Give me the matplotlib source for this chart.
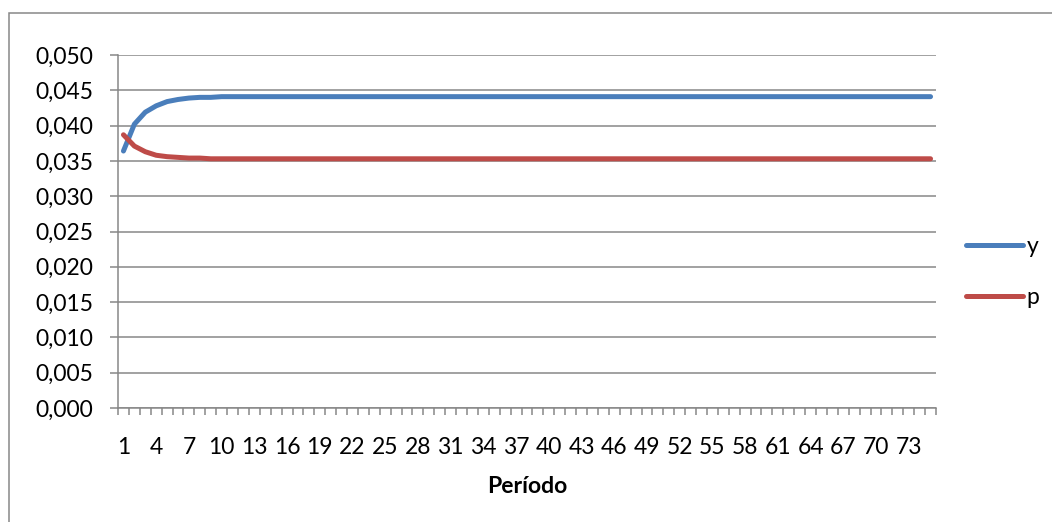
import matplotlib
matplotlib.use("Agg")
import matplotlib.pyplot as plt
from matplotlib.patches import Rectangle
from matplotlib.ticker import FixedLocator, FuncFormatter

periodos = list(range(1, 76))

y = [0.0364, 0.0402, 0.0419, 0.0428, 0.0434, 0.0437, 0.0439, 0.0440, 0.0440, 0.0441,
     0.0441, 0.0441, 0.0441, 0.0441, 0.0441, 0.0441, 0.0441, 0.0441, 0.0441, 0.0441,
     0.0441, 0.0441, 0.0441, 0.0441, 0.0441, 0.0441, 0.0441, 0.0441, 0.0441, 0.0441,
     0.0441, 0.0441, 0.0441, 0.0441, 0.0441, 0.0441, 0.0441, 0.0441, 0.0441, 0.0441,
     0.0441, 0.0441, 0.0441, 0.0441, 0.0441, 0.0441, 0.0441, 0.0441, 0.0441, 0.0441,
     0.0441, 0.0441, 0.0441, 0.0441, 0.0441, 0.0441, 0.0441, 0.0441, 0.0441, 0.0441,
     0.0441, 0.0441, 0.0441, 0.0441, 0.0441, 0.0441, 0.0441, 0.0441, 0.0441, 0.0441,
     0.0441, 0.0441, 0.0441, 0.0441, 0.0441]

p = [0.0387, 0.0371, 0.0363, 0.0358, 0.0356, 0.0355, 0.0354, 0.0354, 0.0353, 0.0353,
     0.0353, 0.0353, 0.0353, 0.0353, 0.0353, 0.0353, 0.0353, 0.0353, 0.0353, 0.0353,
     0.0353, 0.0353, 0.0353, 0.0353, 0.0353, 0.0353, 0.0353, 0.0353, 0.0353, 0.0353,
     0.0353, 0.0353, 0.0353, 0.0353, 0.0353, 0.0353, 0.0353, 0.0353, 0.0353, 0.0353,
     0.0353, 0.0353, 0.0353, 0.0353, 0.0353, 0.0353, 0.0353, 0.0353, 0.0353, 0.0353,
     0.0353, 0.0353, 0.0353, 0.0353, 0.0353, 0.0353, 0.0353, 0.0353, 0.0353, 0.0353,
     0.0353, 0.0353, 0.0353, 0.0353, 0.0353, 0.0353, 0.0353, 0.0353, 0.0353, 0.0353,
     0.0353, 0.0353, 0.0353, 0.0353, 0.0353]

plt.rcParams['font.family'] = ['Lato', 'DejaVu Sans']
cinza = '#878787'
fs = 16.5

fig = plt.figure(figsize=(10.52, 5.22), dpi=100)
fig.patches.append(Rectangle((9 / 1052, -0.1), 1.2, 1 - 13 / 522 + 0.1, transform=fig.transFigure,
                             fill=False, edgecolor=cinza, linewidth=1.1))

ax = fig.add_axes([118 / 1052, 1 - 408 / 522, 818 / 1052, 353 / 522])

x = list(range(len(periodos)))
ax.plot(x, y, color='#4A7EBB', lw=3.6, solid_capstyle='round', solid_joinstyle='round', label='y')
ax.plot(x, p, color='#BE4B48', lw=3.6, solid_capstyle='round', solid_joinstyle='round', label='p')

ax.set_xlim(-0.5, len(periodos) - 0.5)
ax.set_ylim(0, 0.050)
ax.set_yticks([i * 0.005 for i in range(11)])
ax.yaxis.set_major_formatter(FuncFormatter(lambda v, pos: f"{v:.3f}".replace('.', ',')))
ax.grid(axis='y', color=cinza, lw=1.1)
ax.set_axisbelow(True)

# rótulos a cada 3 períodos, marcas entre categorias
ax.xaxis.set_major_locator(FixedLocator(x[::3]))
ax.set_xticklabels([str(v) for v in periodos[::3]])
ax.xaxis.set_minor_locator(FixedLocator([i - 0.5 for i in range(len(periodos) + 1)]))
ax.tick_params(axis='x', which='major', length=0, pad=21, labelsize=fs)
ax.tick_params(axis='x', which='minor', length=5, width=1.1, color=cinza, direction='out')
ax.tick_params(axis='y', length=6, width=1.1, color=cinza, pad=12, labelsize=fs)

for s in ['top', 'right']:
    ax.spines[s].set_visible(False)
for s in ['left', 'bottom']:
    ax.spines[s].set_color(cinza)
    ax.spines[s].set_linewidth(1.1)

ax.set_xlabel('Período', fontsize=fs, fontweight='bold', labelpad=13)

fig.legend(loc='center left', bbox_to_anchor=(966 / 1052, 1 - 272 / 522), frameon=False,
           fontsize=fs, handlelength=2.5, handletextpad=0.15, borderpad=0, borderaxespad=0,
           labelspacing=1.3)

fig.savefig('out.png', dpi=100)
